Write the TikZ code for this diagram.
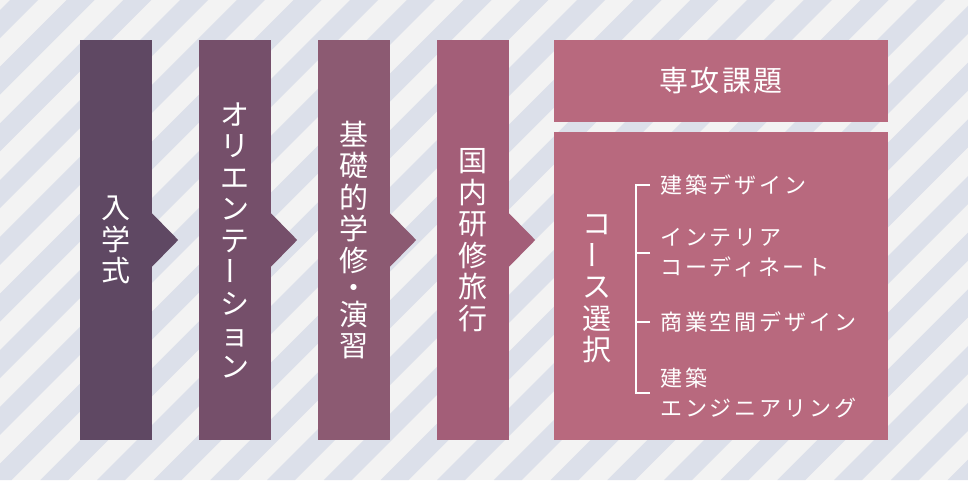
\documentclass[tikz,border=0pt]{standalone}
\usepackage{fontspec}
\usepackage{graphicx}
\newfontfamily\jp{Noto Sans CJK JP}
\newfontfamily\jpls[LetterSpace=9]{Noto Sans CJK JP}
\newfontfamily\jpis[LetterSpace=13]{Noto Sans CJK JP}
\newcommand{\vbar}{\raisebox{0.17em}{\rotatebox[origin=c]{90}{ー}}}
\definecolor{bgw}{HTML}{F3F3F3}
\definecolor{bgb}{HTML}{DCE0EA}
\definecolor{cA}{HTML}{5F4863}
\definecolor{cB}{HTML}{754F6A}
\definecolor{cC}{HTML}{8C5A72}
\definecolor{cD}{HTML}{A35E78}
\definecolor{cE}{HTML}{B8697E}
\newcommand{\tabarrow}[2]{\fill[#2] ([xshift=-0.5pt]#1.east) ++(0,-27) -- ++(26.5,27) -- ++(-26.5,27) -- cycle;}
\begin{document}
\begin{tikzpicture}[x=1pt,y=-1pt,
  col/.style={minimum width=72pt, minimum height=400pt, inner sep=0pt, text=white, align=center,
    font=\jp\fontsize{29}{31.5}\selectfont},
  vtext/.style={inner sep=0pt, text=white, align=center, font=\jp\fontsize{29}{31.5}\selectfont},
  panel/.style={minimum width=334pt, inner sep=0pt, fill=cE, text=white},
  item/.style={anchor=west, inner sep=0pt, text=white, align=left, font=\jpis\fontsize{22}{30}\selectfont},
  brk/.style={draw=white, line width=2pt}]
\useasboundingbox (0,0) rectangle (968,480);
\begin{scope}
\clip (0,0) rectangle (968,480);
\fill[bgw] (0,0) rectangle (968,480);
\foreach \k in {-1,...,26} {
  \pgfmathsetmacro\c{10+\k*56.7}
  \fill[bgb] (\c,0) -- (\c+28,0) -- (\c+28-480,480) -- (\c-480,480) -- cycle;
}
\end{scope}
\node[col, fill=cA] (b1) at (116,240) {入\\学\\式};
\node[col, fill=cB] (b2) at (235,240) {オ\\リ\\エ\\ン\\テ\\\vbar\\シ\\ョ\\ン};
\node[col, fill=cC] (b3) at (354,240) {基\\礎\\的\\学\\修\\[-4.5pt]・\\[-4.5pt]演\\習};
\node[col, fill=cD] (b4) at (473,240) {国\\内\\研\\修\\旅\\行};
\tabarrow{b1}{cA}
\tabarrow{b2}{cB}
\tabarrow{b3}{cC}
\tabarrow{b4}{cD}
\node[panel, minimum height=81.5pt, font=\jpls\fontsize{29}{31.5}\selectfont] (t1) at (721,80.75) {専攻課題};
\node[panel, minimum height=308pt] (t2) at (721,286) {};
\node[vtext] (cs) at (597,289) {コ\\\vbar\\ス\\選\\択};
\node[item] (i1) at (660,185) {建築デザイン};
\node[item] (i2) at (660,253) {インテリア\\コーディネート};
\node[item] (i3) at (660,322) {商業空間デザイン};
\node[item] (i4) at (660,392.5) {建築\\エンジニアリング};
\draw[brk] ([xshift=-10pt]i1.west) -- ([xshift=-24pt]i1.west) -- ([xshift=-24pt]i4.west) -- ([xshift=-10pt]i4.west);
\draw[brk] ([xshift=-10pt]i2.west) -- ([xshift=-24pt]i2.west);
\draw[brk] ([xshift=-10pt]i3.west) -- ([xshift=-24pt]i3.west);
\end{tikzpicture}
\end{document}
